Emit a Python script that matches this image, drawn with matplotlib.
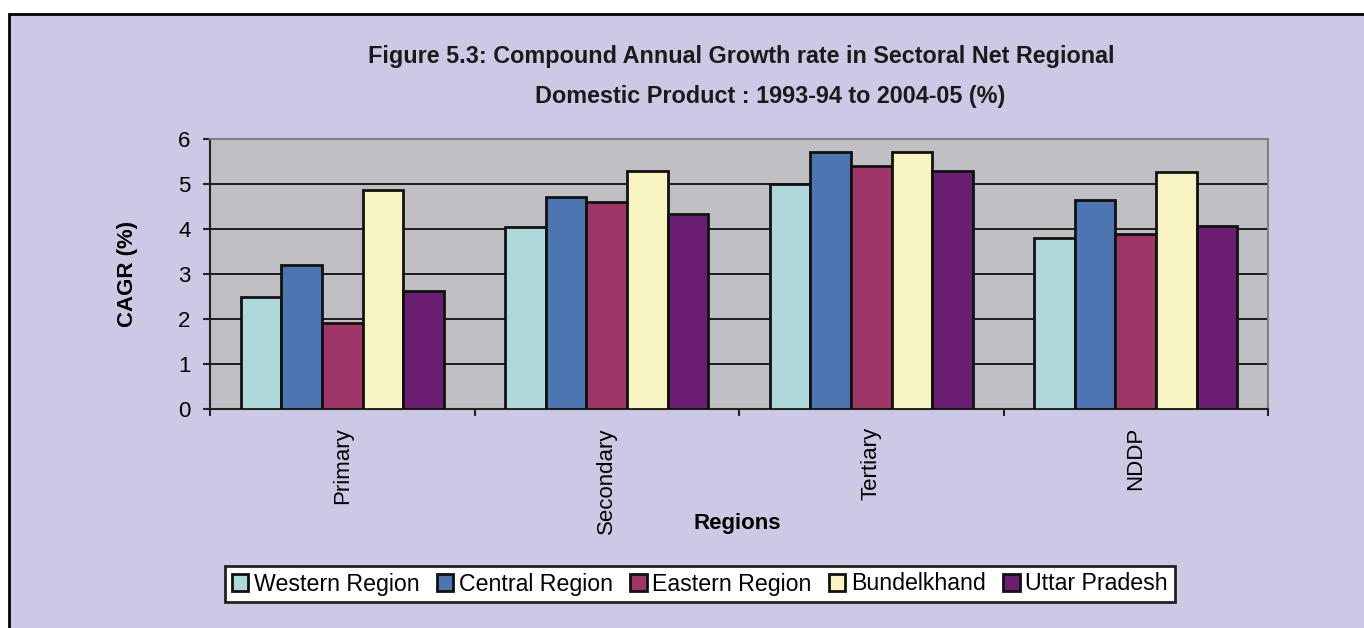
import matplotlib

matplotlib.use("Agg")
import matplotlib.pyplot as plt
import numpy as np
from matplotlib.patches import Rectangle

plt.rcParams["font.family"] = ["Liberation Sans", "DejaVu Sans"]

# CAGR (%) by sector, one list per region
sectors = ["Primary", "Secondary", "Tertiary", "NDDP"]
regions = ["Western Region", "Central Region", "Eastern Region", "Bundelkhand", "Uttar Pradesh"]
western = [2.5, 4.05, 5.0, 3.8]
central = [3.2, 4.72, 5.72, 4.64]
eastern = [1.92, 4.6, 5.4, 3.88]
bundelkhand = [4.86, 5.3, 5.72, 5.26]
uttar_pradesh = [2.62, 4.33, 5.3, 4.06]
series = [western, central, eastern, bundelkhand, uttar_pradesh]
colors = ["#AED8D9", "#4B76B1", "#9E3768", "#F8F4C1", "#6A1E72"]

W, H = 1364, 628
fig = plt.figure(figsize=(W / 100, H / 100), dpi=100, facecolor="white")

# lavender chart area with a black frame on the top and left
fig.patches.append(
    Rectangle((9 / W, -0.1), 1.2, 1.1 - 14 / H, transform=fig.transFigure,
              facecolor="#CCC9E5", edgecolor="black", linewidth=2, zorder=-1)
)

ax = fig.add_axes([210 / W, 1 - 409 / H, (1268 - 210) / W, (409 - 139) / H])
ax.set_facecolor("#C0C0C4")

x = np.arange(len(sectors))
bar_w = 1 / 6.5
for i, (vals, c) in enumerate(zip(series, colors)):
    offs = (i - 2) * bar_w
    ax.bar(x + offs, vals, width=bar_w, color=c, edgecolor="#111111",
           linewidth=2.0, label=regions[i], zorder=3)

ax.set_xlim(-0.5, len(sectors) - 0.5)
ax.set_ylim(0, 6)
ax.set_yticks(range(0, 7))
ax.yaxis.grid(True, color="#1c1c1c", linewidth=1.4, zorder=1)
ax.set_axisbelow(True)

ax.set_xticks(x)
ax.set_xticklabels(sectors, rotation=90, fontsize=16)
ax.set_xticks(np.arange(-0.5, len(sectors)), minor=True)
ax.tick_params(axis="x", which="major", length=0, pad=13)
ax.tick_params(axis="x", which="minor", length=5, width=1.5, color="#222222")
ax.tick_params(axis="y", length=5, width=1.5, color="#222222", labelsize=16, pad=9)

for s in ["top", "right"]:
    ax.spines[s].set_color("#808080")
    ax.spines[s].set_linewidth(1.5)
for s in ["left", "bottom"]:
    ax.spines[s].set_color("#222222")
    ax.spines[s].set_linewidth(1.5)

ax.set_ylabel("CAGR (%)", fontsize=16, fontweight="bold")
ax.set_xlabel("Regions", fontsize=16, fontweight="bold")
ax.xaxis.set_label_coords((737 - 210) / (1268 - 210), -(523 - 409) / (409 - 139))
ax.yaxis.set_label_coords(-(211 - 128) / (1268 - 210), 0.5)
ax.xaxis.label.set_va("center")
ax.yaxis.label.set_va("center")

fig.text(741 / W, 1 - 57 / H,
         "Figure 5.3: Compound Annual Growth rate in Sectoral Net Regional",
         ha="center", va="center", fontsize=16.8, fontweight="bold", color="#1a1a1a")
fig.text(770 / W, 1 - 97 / H,
         "Domestic Product : 1993-94 to 2004-05 (%)",
         ha="center", va="center", fontsize=16.8, fontweight="bold", color="#1a1a1a")

leg = fig.legend(loc="center", bbox_to_anchor=(700 / W, 1 - 584 / H), ncol=5,
                 fontsize=16.7, frameon=True, fancybox=False, handlelength=0.7,
                 handleheight=0.7, handletextpad=0.25, columnspacing=0.75,
                 borderpad=0.3, borderaxespad=0)
frame = leg.get_frame()
frame.set_edgecolor("#222222")
frame.set_linewidth(2)
frame.set_facecolor("white")
frame.set_alpha(1)

fig.savefig("out.png", dpi=100, facecolor=fig.get_facecolor())
